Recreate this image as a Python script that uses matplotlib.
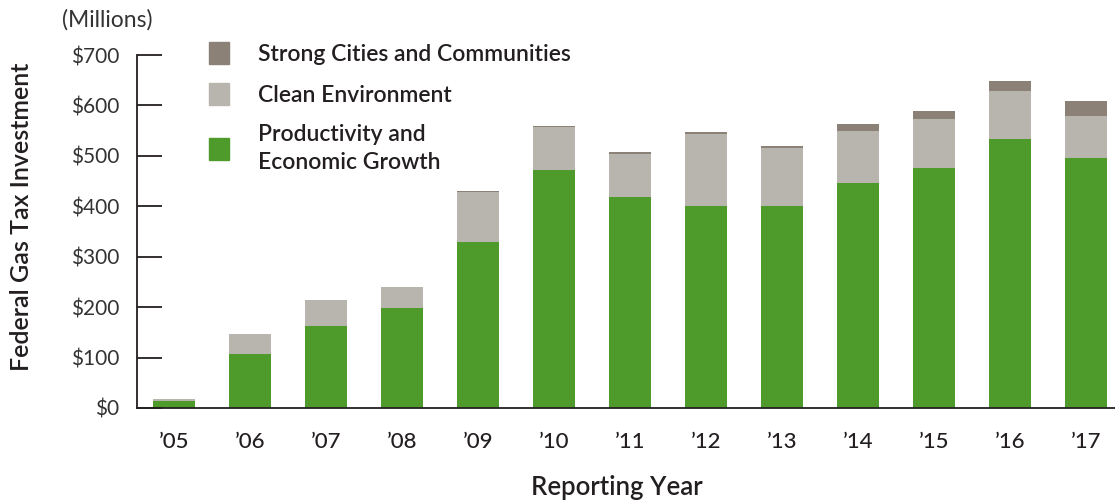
import matplotlib
matplotlib.use("Agg")
import matplotlib.pyplot as plt
from matplotlib.patches import Patch
import numpy as np

years = ["’05", "’06", "’07", "’08", "’09", "’10", "’11", "’12", "’13", "’14", "’15", "’16", "’17"]
productivity = [14, 107, 163, 199, 330, 472, 419, 400, 401, 447, 475, 534, 496]
clean_env = [3, 40, 52, 41, 98, 86, 85, 144, 114, 103, 99, 95, 84]
strong_cities = [0, 0, 0, 0, 2, 2, 4, 3, 5, 14, 14, 20, 29]
yticks = [0, 100, 200, 300, 400, 500, 600, 700]
ytick_labels = ["$0", "$100", "$200", "$300", "$400", "$500", "$600", "$700"]

GREEN = "#4e9b2b"
GRAY = "#b8b5af"
DARK = "#8b8176"
TXT = "#231f20"

plt.rcParams['font.family'] = ['Lato', 'DejaVu Sans']

fig = plt.figure(figsize=(11.15, 5.0), dpi=100)
ax = fig.add_axes([137/1115, 92/500, 1 - 137/1115, (408-55)/500])

x = np.arange(len(years))
w = 0.55
p = np.array(productivity)
c = np.array(clean_env)
s = np.array(strong_cities)
ax.bar(x, p, w, color=GREEN, edgecolor='none')
ax.bar(x, c, w, bottom=p, color=GRAY, edgecolor='none')
ax.bar(x, s, w, bottom=p + c, color=DARK, edgecolor='none')

ax.set_xlim(-0.49, 12.38)
ax.set_ylim(0, 700)
for sp in ['top', 'right']:
    ax.spines[sp].set_visible(False)
ax.spines['left'].set_color(TXT)
ax.spines['bottom'].set_color(TXT)
ax.spines['left'].set_linewidth(1.3)
ax.spines['bottom'].set_linewidth(1.3)

ax.set_yticks(yticks)
ax.set_yticklabels(ytick_labels, fontsize=15, fontweight='normal', color='#333333')
ax.tick_params(axis='y', direction='in', length=18, width=1.3, color=TXT, pad=12.5)
ax.set_xticks(x)
ax.set_xticklabels(years, fontsize=16, fontweight='medium', color=TXT)
ax.tick_params(axis='x', length=0, pad=17)

fig.text(22/1115, 1 - 217/500, "Federal Gas Tax Investment", rotation=90, ha='center', va='center',
         fontsize=18, fontweight='semibold', color=TXT)
fig.text(62/1115, 1 - 20/500, "(Millions)", ha='left', va='center', fontsize=16.5, fontweight='normal', color='#333333')
fig.text(617/1115, 1 - 487/500, "Reporting Year", ha='center', va='center', fontsize=18.5,
         fontweight='semibold', color=TXT)

handles = [Patch(color=DARK), Patch(color=GRAY), Patch(color=GREEN)]
labels = ["Strong Cities and Communities", "Clean Environment", "Productivity and\nEconomic Growth"]
leg = fig.legend(handles, labels, loc='upper left', bbox_to_anchor=(200/1115, 1 - 33/500),
                 frameon=False, fontsize=16.5, handlelength=0.85, handleheight=1.1,
                 handletextpad=1.3, labelspacing=0.78, borderaxespad=0)
for t in leg.get_texts():
    t.set_fontweight('semibold')
    t.set_color(TXT)
    t.set_linespacing(1.45)

fig.savefig("out.png", dpi=100)
